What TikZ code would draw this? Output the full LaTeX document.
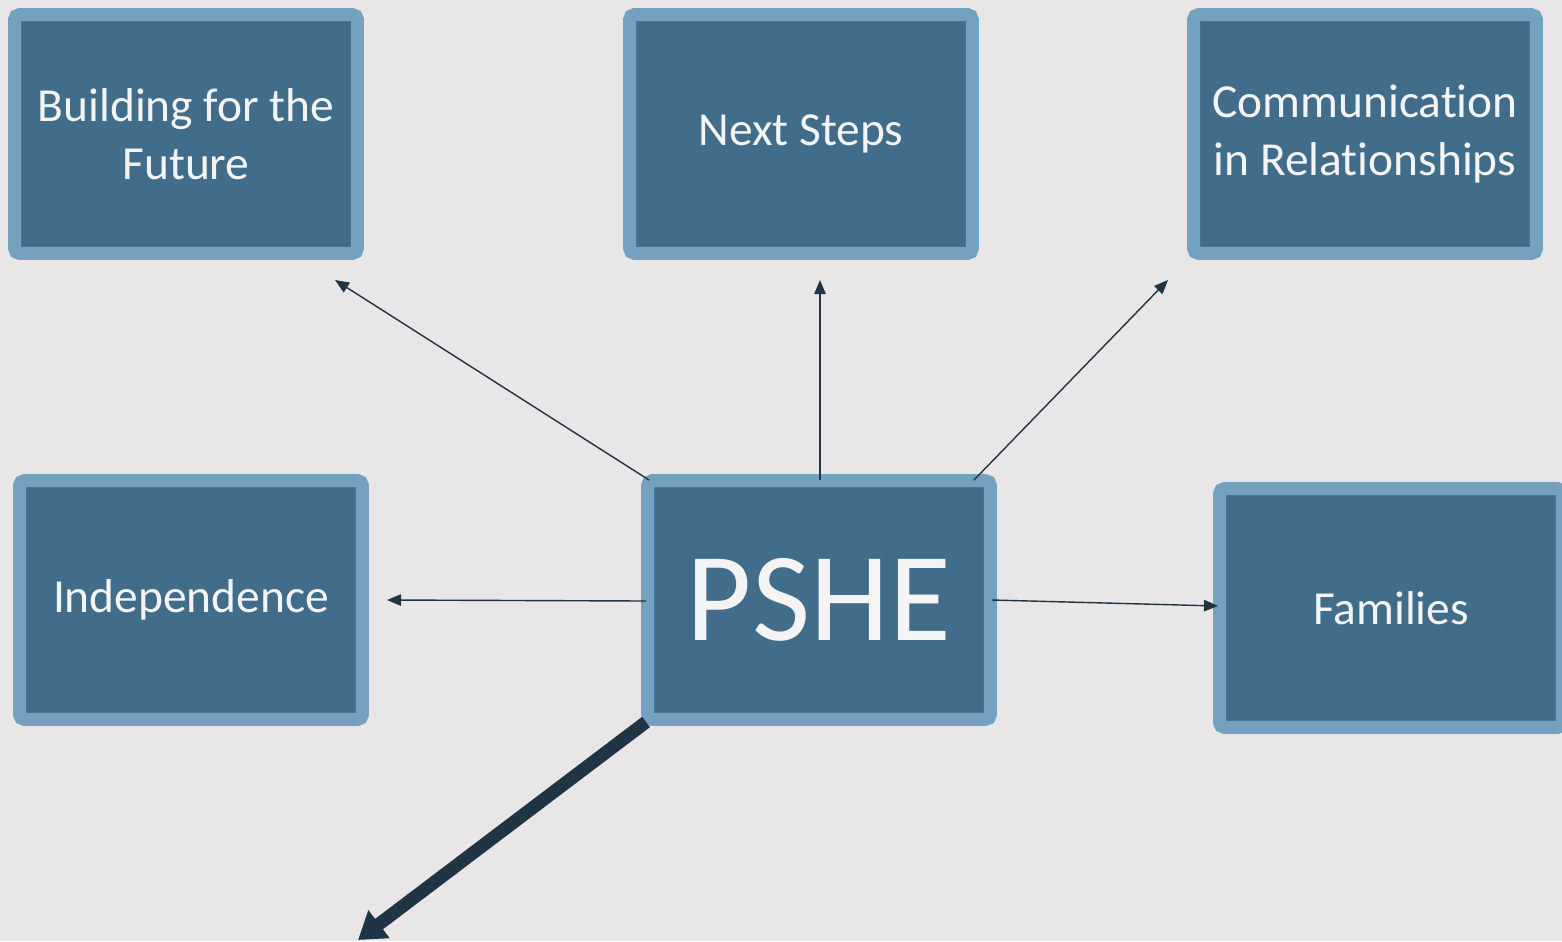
\documentclass[tikz,border=0pt]{standalone}
\usepackage{fontspec}
\setmainfont{Carlito}[Ligatures=NoCommon]
\usetikzlibrary{arrows.meta}
\definecolor{boxedge}{HTML}{74A1BF}
\definecolor{boxfill}{HTML}{416D8A}
\definecolor{boxtext}{HTML}{F4F4F4}
\definecolor{arrowdark}{HTML}{1F3444}
\definecolor{paper}{HTML}{E8E6E7}
\tikzstyle{topic} = [
    rectangle,
    rounded corners=3pt,
    minimum width=6.86cm,
    minimum height=4.78cm,
    line width=0.26cm,
    draw=boxedge,
    fill=boxfill,
    text=boxtext,
    align=center,
    font=\fontsize{27}{33}\selectfont
]
\tikzstyle{hub} = [
    topic,
    font=\fontsize{72}{80}\selectfont
]
\tikzstyle{arrow} = [line width=0.8pt,draw=arrowdark,-{Triangle[length=8pt,width=6.5pt]}]
\tikzstyle{bigarrow} = [line width=7.4pt,draw=arrowdark,fill=arrowdark,-{Triangle[length=15pt,width=19pt]}]
\begin{document}
\begin{tikzpicture}[x=0.02cm,y=-0.02cm]

\useasboundingbox (0,0) rectangle (1562,941);
\clip (0,0) rectangle (1562,941);
\fill [paper] (0,0) rectangle (1562,941);

\node (build) [topic] at (186,134)
{Building for the\\Future};

\node (next) [topic] at (801,134)
{Next Steps};

\node (comm) [topic] at (1365,134)
{Communication\\in Relationships};

\node (indep) [topic] at (191,600)
{Independence};

\node (pshe) [hub] at (819,600)
{PSHE};

\node (fam) [topic] at (1391,608)
{Families};

\coordinate (buildtip) at (335,280);
\coordinate (nexttip) at (820,280);
\coordinate (commtip) at (1168,280);
\coordinate (indeptip) at (387,600);
\coordinate (famtip) at (1218,606);
\coordinate (downtip) at (358,940);

\draw [arrow] ([shift={(8,6)}]pshe.north west) -- (buildtip);
\draw [arrow] ([shift={(1,6)}]pshe.north) -- (nexttip);
\draw [arrow] ([shift={(-23,6)}]pshe.north east) -- (commtip);
\draw [arrow] ([shift={(5,1)}]pshe.west) -- (indeptip);
\draw [arrow] ([shift={(-5,0)}]pshe.east) -- (famtip);
\draw [bigarrow] ([shift={(5,-4)}]pshe.south west) -- (downtip);

\end{tikzpicture}
\end{document}
